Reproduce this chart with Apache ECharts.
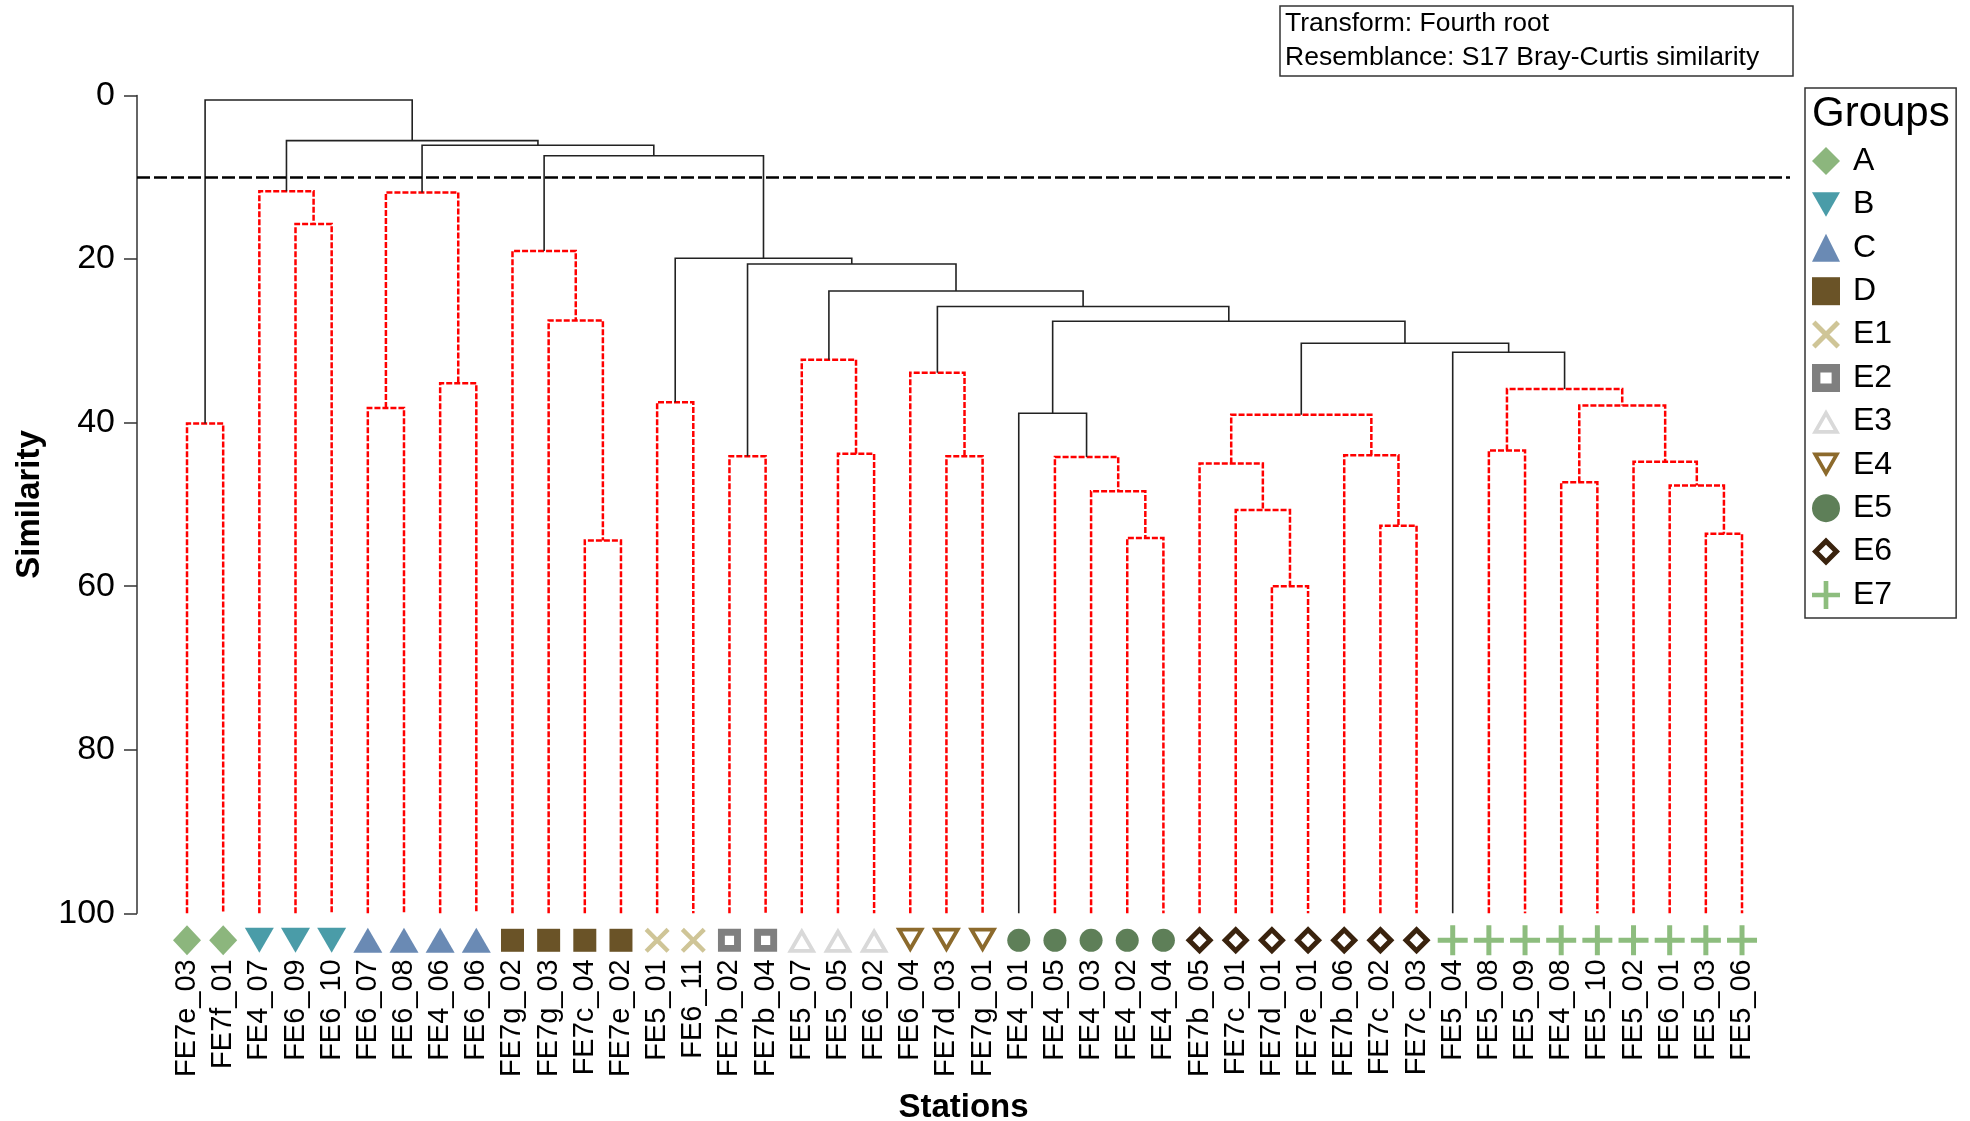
<!DOCTYPE html>
<html><head><meta charset="utf-8">
<script src="https://cdn.jsdelivr.net/npm/echarts@6/dist/echarts.min.js"></script>
<style>html,body{margin:0;padding:0;background:#fff}#c{width:1970px;height:1121px}</style>
</head><body><div id="c"></div>
<script>
// ---- data ----
const stations = ['FE7e_03','FE7f_01','FE4_07','FE6_09','FE6_10','FE6_07','FE6_08','FE4_06','FE6_06',
  'FE7g_02','FE7g_03','FE7c_04','FE7e_02','FE5_01','FE6_11','FE7b_02','FE7b_04','FE5_07','FE5_05','FE6_02',
  'FE6_04','FE7d_03','FE7g_01','FE4_01','FE4_05','FE4_03','FE4_02','FE4_04','FE7b_05','FE7c_01','FE7d_01',
  'FE7e_01','FE7b_06','FE7c_02','FE7c_03','FE5_04','FE5_08','FE5_09','FE4_08','FE5_10','FE5_02','FE6_01',
  'FE5_03','FE5_06'];
const stationGroups = ['A','A','B','B','B','C','C','C','C','D','D','D','D','E1','E1','E2','E2','E3','E3','E3',
  'E4','E4','E4','E5','E5','E5','E5','E5','E6','E6','E6','E6','E6','E6','E6',
  'E7','E7','E7','E7','E7','E7','E7','E7','E7'];
const groupNames = ['A','B','C','D','E1','E2','E3','E4','E5','E6','E7'];
// merges: [child1, child2, similarity, significant(1=solid black, 0=red dashed)]
// ids 0..43 are stations, 44+k is the k-th merge
const merges = [
  [0, 1, 40.1, 0],    // 44
  [3, 4, 15.7, 0],    // 45
  [2, 45, 11.7, 0],   // 46
  [5, 6, 38.2, 0],    // 47
  [7, 8, 35.2, 0],    // 48
  [47, 48, 11.85, 0], // 49
  [11, 12, 54.4, 0],  // 50
  [10, 50, 27.5, 0],  // 51
  [9, 51, 19.0, 0],   // 52
  [13, 14, 37.5, 0],  // 53
  [15, 16, 44.1, 0],  // 54
  [18, 19, 43.8, 0],  // 55
  [17, 55, 32.3, 0],  // 56
  [21, 22, 44.1, 0],  // 57
  [20, 57, 33.9, 0],  // 58
  [26, 27, 54.1, 0],  // 59
  [25, 59, 48.4, 0],  // 60
  [24, 60, 44.2, 0],  // 61
  [23, 61, 38.85, 1], // 62
  [30, 31, 60.0, 0],  // 63
  [29, 63, 50.7, 0],  // 64
  [28, 64, 45.0, 0],  // 65
  [33, 34, 52.6, 0],  // 66
  [32, 66, 44.0, 0],  // 67
  [65, 67, 39.05, 0], // 68
  [42, 43, 53.6, 0],  // 69
  [41, 69, 47.7, 0],  // 70
  [40, 70, 44.8, 0],  // 71
  [38, 39, 47.3, 0],  // 72
  [72, 71, 37.9, 0],  // 73
  [36, 37, 43.4, 0],  // 74
  [74, 73, 35.9, 0],  // 75
  [35, 75, 31.4, 1],  // 76
  [68, 76, 30.3, 1],  // 77
  [62, 77, 27.6, 1],  // 78
  [58, 78, 25.8, 1],  // 79
  [56, 79, 23.9, 1],  // 80
  [54, 80, 20.6, 1],  // 81
  [53, 81, 19.9, 1],  // 82
  [52, 82, 7.36, 1],  // 83
  [49, 83, 6.09, 1],  // 84
  [46, 84, 5.52, 1],  // 85
  [44, 85, 0.55, 1]   // 86
];
const cutoffSimilarity = 10;
const markerRowSimilarity = 103.3;

// ---- styles ----
const FONT = "'Liberation Sans', Arial, Helvetica, sans-serif";
const plusPath = 'path://M5,0H7V5H12V7H7V12H5V7H0V5H5Z';
const xPath = 'path://M0,1.5L1.5,0L6,4.5L10.5,0L12,1.5L7.5,6L12,10.5L10.5,12L6,7.5L1.5,12L0,10.5L4.5,6Z';
const downTri = 'path://M0,0L24,0L12,21Z';
const sqRing = 'path://M0,0H10V10H0Z M3,3V7H7V3Z';
const upTriRing = 'path://M12,0L24,21L0,21Z M12,6.46L5.52,17.8L18.48,17.8Z';
const downTriRing = 'path://M0,0L24,0L12,21Z M5.52,3.2L12,14.54L18.48,3.2Z';
const diaRing = 'path://M12,0L24,12L12,24L0,12Z M12,6.07L6.07,12L12,17.93L17.93,12Z';
const groupStyle = {
  A:  {symbol: 'diamond', size: [28, 30], color: '#8CB67D'},
  B:  {symbol: downTri, size: [29, 25], color: '#4A9CA8'},
  C:  {symbol: 'triangle', size: [29, 25], color: '#6A8AB4'},
  D:  {symbol: 'rect', size: 23, color: '#6A5327'},
  E1: {symbol: xPath, size: 25, color: '#CFC597'},
  E2: {symbol: sqRing, size: 23, color: '#7F7F7F'},
  E3: {symbol: upTriRing, size: [29, 25], color: '#D9D9D9'},
  E4: {symbol: downTriRing, size: [29, 25], color: '#8C6A2C'},
  E5: {symbol: 'circle', size: 23, color: '#5E7F58'},
  E6: {symbol: diaRing, size: 28, color: '#3A230E'},
  E7: {symbol: plusPath, size: 30, color: '#8DBD7E'}
};

// ---- dendrogram geometry from merges ----
const pos = stations.map((_, i) => i);
const hgt = stations.map(() => 100);
const segs = merges.map(([a, b, h, sig]) => {
  const d = [pos[a], hgt[a], pos[b], hgt[b], h, sig];
  pos.push((pos[a] + pos[b]) / 2);
  hgt.push(h);
  return d;
});

const scatterSeries = groupNames.map((g, gi) => {
  const st = groupStyle[g];
  const s = {
    type: 'scatter', name: g, clip: false, silent: true, z: 5,
    symbol: st.symbol, symbolSize: st.size,
    itemStyle: {color: st.color, borderWidth: 0, opacity: 1},
    data: stations.map((s, i) => stationGroups[i] === g ? [i, markerRowSimilarity] : null).filter(Boolean)
  };
  if (gi === 0) {
    s.markLine = {silent: true, symbol: ['none', 'none'], label: {show: false},
      lineStyle: {color: '#000', width: 2.5, type: [13, 4]}, data: [{yAxis: cutoffSimilarity}]};
  }
  return s;
});

const chart = echarts.init(document.getElementById('c'));
chart.setOption({
  animation: false,
  backgroundColor: '#fff',
  textStyle: {fontFamily: FONT},
  title: [
    {text: 'Transform: Fourth root\nResemblance: S17 Bray-Curtis similarity', left: 1280, top: 6,
     padding: [1, 34, 1, 5], borderColor: '#333', borderWidth: 1.5,
     textStyle: {fontSize: 26.5, lineHeight: 34, fontWeight: 'normal', color: '#000', fontFamily: FONT}},
    {text: 'Groups', left: 1812, top: 93, padding: 0,
     textStyle: {fontSize: 42, fontWeight: 'normal', color: '#000', fontFamily: FONT}}
  ],
  legend: {
    orient: 'vertical', left: 1805, top: 88, padding: [57, 64, 7, 7],
    itemWidth: 28, itemHeight: 28, itemGap: 11.4, selectedMode: false,
    borderColor: '#333', borderWidth: 1.5,
    textStyle: {fontSize: 32, color: '#000', padding: [0, 0, 0, 8], fontFamily: FONT},
    data: groupNames
  },
  grid: {left: 137, right: 180, top: 95.5, bottom: 207.7, containLabel: false, outerBoundsMode: 'none'},
  xAxis: {
    type: 'value', min: -1.383, max: 44.327,
    axisLine: {show: false}, axisTick: {show: false}, splitLine: {show: false},
    axisLabel: {
      customValues: stations.map((_, i) => i),
      formatter: v => stations[Math.round(v)] || '',
      rotate: 90, fontSize: 29, margin: 46, color: '#000', fontFamily: FONT
    },
    name: 'Stations', nameLocation: 'middle', nameGap: 178,
    nameTextStyle: {fontSize: 33, fontWeight: 'bold', color: '#000', fontFamily: FONT}
  },
  yAxis: {
    type: 'value', inverse: true, min: 0, max: 100, interval: 20,
    axisLine: {show: true, onZero: false, lineStyle: {color: '#333', width: 1.5}},
    axisTick: {show: true, length: 13, lineStyle: {color: '#333', width: 1.5}},
    splitLine: {show: false},
    axisLabel: {fontSize: 34, color: '#000', margin: 22, fontFamily: FONT},
    name: 'Similarity', nameLocation: 'middle', nameGap: 91,
    nameTextStyle: {fontSize: 33, fontWeight: 'bold', color: '#000', fontFamily: FONT}
  },
  series: [
    {
      type: 'custom', silent: true, clip: false, z: 3,
      encode: {x: [0, 2], y: [1, 3, 4]},
      data: segs,
      renderItem: (params, api) => {
        const p1 = api.coord([api.value(0), api.value(1)]);
        const p2 = api.coord([api.value(0), api.value(4)]);
        const p3 = api.coord([api.value(2), api.value(4)]);
        const p4 = api.coord([api.value(2), api.value(3)]);
        const sig = api.value(5);
        return {
          type: 'polyline',
          shape: {points: [p1, p2, p3, p4]},
          style: sig ? {stroke: '#222', lineWidth: 1.6, fill: null}
                     : {stroke: '#ff0000', lineWidth: 2.5, lineDash: [6, 2], fill: null}
        };
      }
    }
  ].concat(scatterSeries)
});
</script></body></html>
